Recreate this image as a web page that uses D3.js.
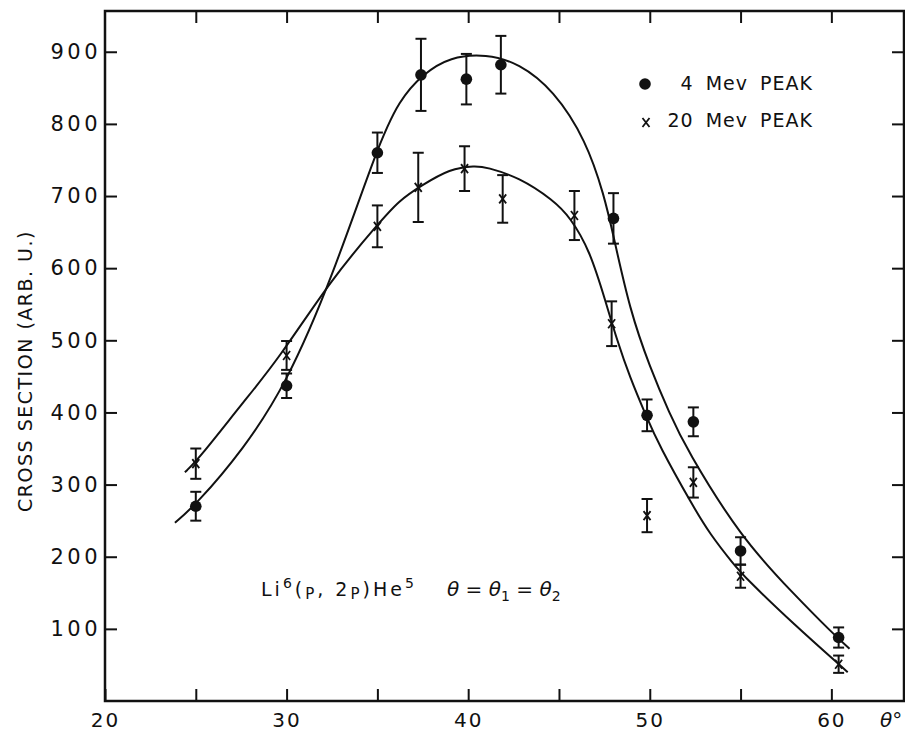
<!DOCTYPE html>
<html>
<head>
<meta charset="utf-8">
<script src="https://cdn.jsdelivr.net/npm/d3@7"></script>
<style>
  body { margin: 0; background: #fff; }
  text { font-family: 'DejaVu Sans', sans-serif; fill: #111; }
</style>
</head>
<body>
<svg></svg>
<script>
// Li6(p,2p)He5 cross section vs angle, two peaks

// data
const angles4 = [25, 30, 35, 37.4, 39.9, 41.8, 48.0, 49.85, 52.4, 55, 60.4];
const values4 = [270, 437, 760, 868, 862, 882, 669, 396, 387, 208, 88];
const errors4 = [20, 17, 28, 50, 35, 40, 35, 22, 20, 19, 14];

const angles20 = [25, 30, 35, 37.25, 39.8, 41.9, 45.85, 47.9, 49.85, 52.4, 55, 60.4];
const values20 = [329, 479, 658, 712, 738, 696, 673, 523, 257, 303, 173, 51];
const errors20 = [21, 20, 29, 48, 31, 33, 34, 31, 23, 21, 16, 12];

// hand drawn fit curves (angle, value)
const curve4 = [[23.85, 247], [25, 272], [27.6, 348], [30, 440], [32.5, 586], [35, 768],
  [36.2, 833], [37.5, 869], [39, 893], [41, 897], [42.8, 884], [44.7, 847], [46.5, 777],
  [47.5, 700], [48, 645], [48.9, 542], [50, 463], [51.1, 398], [52, 350], [55, 227],
  [57.9, 149], [60.1, 93], [61, 72.5]];
const curve20 = [[24.4, 317], [25.2, 337], [27.6, 414], [29.5, 472], [32.5, 586], [35, 660],
  [36.2, 694], [37.4, 714], [39, 738], [40.4, 742], [41, 740], [42.8, 726], [44.7, 694],
  [45.6, 671], [46.7, 625], [47.6, 551], [48.2, 500], [48.9, 449], [49.8, 395], [50.5, 355],
  [52.4, 269], [53.3, 232], [54.6, 190], [55.3, 170], [57.9, 107], [60.9, 40]];

const xTicks = [20, 25, 30, 35, 40, 45, 50, 55, 60];
const xLabels = [20, 30, 40, 50, 60];
const yTicks = [100, 200, 300, 400, 500, 600, 700, 800, 900];

const width = 905,
      height = 731;

const svg = d3.select('svg')
              .attr('width', width)
              .attr('height', height);

const x = d3.scaleLinear()
            .domain([20, 64])
            .range([105, 904]);

const y = d3.scaleLinear()
            .domain([0, 956.5])
            .range([701, 11]);

// frame
svg.append('rect')
   .attr('x', x(20))
   .attr('y', y(956.5))
   .attr('width', x(64) - x(20))
   .attr('height', y(0) - y(956.5))
   .attr('fill', 'none')
   .attr('stroke', '#111')
   .attr('stroke-width', 2.5);

// axes, ticks point inward
const bottomAxis = d3.axisBottom(x)
                     .tickValues(xTicks)
                     .tickSize(-12)
                     .tickPadding(12)
                     .tickFormat(d => xLabels.includes(d) ? d : '');
const topAxis = d3.axisTop(x).tickValues(xTicks.slice(1)).tickSize(-12).tickFormat('');
const leftAxis = d3.axisLeft(y).tickValues(yTicks).tickSize(-12).tickPadding(4);
const rightAxis = d3.axisRight(y).tickValues(yTicks).tickSize(-12).tickFormat('');

function styleAxis(g, size, spacing) {
  g.select('.domain').remove();
  g.selectAll('line').attr('stroke', '#111').attr('stroke-width', 2);
  g.selectAll('text')
   .attr('font-size', size + 'px')
   .attr('letter-spacing', spacing)
   .attr('fill', '#111')
   .attr('font-family', "'DejaVu Sans', sans-serif");
}

svg.append('g').attr('transform', 'translate(0,' + y(0) + ')').call(bottomAxis).call(styleAxis, 20, 2);
svg.append('g').attr('transform', 'translate(0,' + y(956.5) + ')').call(topAxis).call(styleAxis, 20, 2);
svg.append('g').attr('transform', 'translate(' + x(20) + ',0)').call(leftAxis).call(styleAxis, 21, 3.5);
svg.append('g').attr('transform', 'translate(' + x(64) + ',0)').call(rightAxis).call(styleAxis, 20, 2);

// axis titles
svg.append('text')
   .attr('text-anchor', 'middle')
   .attr('font-size', '19px')
   .attr('letter-spacing', 1.5)
   .attr('transform', 'translate(32,371) rotate(-90)')
   .text('CROSS SECTION (ARB. U.)');

svg.append('text')
   .attr('x', 880)
   .attr('y', 727)
   .attr('font-size', '20px')
   .attr('font-style', 'italic')
   .text('θ°');

// fit curves
const line = d3.line()
               .x(d => x(d[0]))
               .y(d => y(d[1]))
               .curve(d3.curveBasis);

[curve4, curve20].forEach(c => {
  svg.append('path')
     .attr('d', line(c))
     .attr('fill', 'none')
     .attr('stroke', '#111')
     .attr('stroke-width', 2);
});

// error bars
function drawErrors(xs, vs, es) {
  const g = svg.append('g').attr('stroke', '#111').attr('stroke-width', 2);
  xs.forEach((a, i) => {
    const cx = x(a), top = y(vs[i] + es[i]), bot = y(vs[i] - es[i]);
    g.append('line').attr('x1', cx).attr('x2', cx).attr('y1', top).attr('y2', bot);
    g.append('line').attr('x1', cx - 5.5).attr('x2', cx + 5.5).attr('y1', top).attr('y2', top);
    g.append('line').attr('x1', cx - 5.5).attr('x2', cx + 5.5).attr('y1', bot).attr('y2', bot);
  });
}
drawErrors(angles4, values4, errors4);
drawErrors(angles20, values20, errors20);

// 4 Mev dots
svg.append('g')
   .selectAll('circle')
   .data(angles4)
   .enter()
   .append('circle')
   .attr('cx', d => x(d))
   .attr('cy', (d, i) => y(values4[i]))
   .attr('r', 5.8)
   .attr('fill', '#111');

// 20 Mev crosses
function cross(g, cx, cy) {
  g.append('path')
   .attr('d', `M${cx - 3.5},${cy - 4.5}L${cx + 3.5},${cy + 4.5}M${cx + 3.5},${cy - 4.5}L${cx - 3.5},${cy + 4.5}`)
   .attr('stroke', '#111')
   .attr('stroke-width', 1.8)
   .attr('fill', 'none');
}
const crosses = svg.append('g');
angles20.forEach((a, i) => cross(crosses, x(a), y(values20[i])));

// legend
svg.append('circle').attr('cx', 645).attr('cy', 84).attr('r', 5.8).attr('fill', '#111');
cross(svg, 646, 122.5);
svg.append('text')
   .attr('x', 813).attr('y', 89.5)
   .attr('text-anchor', 'end')
   .attr('font-size', '19px')
   .attr('letter-spacing', 1)
   .attr('word-spacing', 5)
   .text('4 Mev PEAK');
svg.append('text')
   .attr('x', 813).attr('y', 127)
   .attr('text-anchor', 'end')
   .attr('font-size', '19px')
   .attr('letter-spacing', 1)
   .attr('word-spacing', 5)
   .text('20 Mev PEAK');

// reaction label
const reaction = svg.append('text')
   .attr('x', 261)
   .attr('y', 596)
   .attr('font-size', '19px')
   .attr('letter-spacing', 3);
reaction.append('tspan').text('Li');
reaction.append('tspan').attr('font-size', '14px').attr('dy', -8).text('6');
reaction.append('tspan').attr('dy', 8).text('(');
reaction.append('tspan').attr('font-size', '15px').attr('dy', 3).text('P');
reaction.append('tspan').attr('dy', -3).text(', 2');
reaction.append('tspan').attr('font-size', '15px').attr('dy', 3).text('P');
reaction.append('tspan').attr('dy', -3).text(')He');
reaction.append('tspan').attr('font-size', '14px').attr('dy', -8).text('5');

const angleText = svg.append('text')
   .attr('x', 447)
   .attr('y', 596)
   .attr('font-size', '20px');
angleText.append('tspan').attr('font-style', 'italic').text('θ');
angleText.append('tspan').text(' = ');
angleText.append('tspan').attr('font-style', 'italic').text('θ');
angleText.append('tspan').attr('font-size', '14px').attr('dy', 5).text('1');
angleText.append('tspan').attr('dy', -5).text(' = ');
angleText.append('tspan').attr('font-style', 'italic').text('θ');
angleText.append('tspan').attr('font-size', '14px').attr('dy', 5).text('2');
</script>
</body>
</html>
